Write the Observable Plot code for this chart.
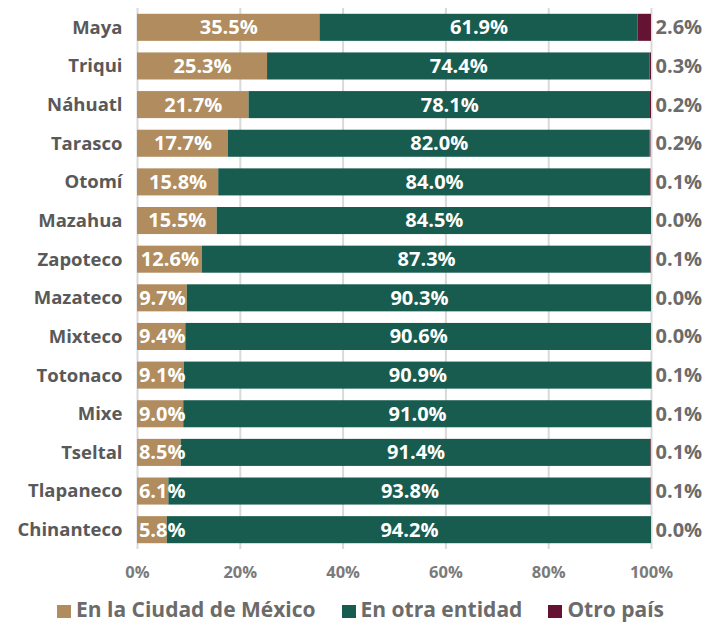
<!DOCTYPE html>
<html><head><meta charset="utf-8">
<script src="https://cdn.jsdelivr.net/npm/d3@7"></script>
<script src="https://cdn.jsdelivr.net/npm/@observablehq/plot@0.6"></script>
<style>
body{margin:0;background:#fff;font-family:"Open Sans",sans-serif;position:relative;width:721px;height:622px;overflow:hidden}
#chart svg{display:block}
#legend{position:absolute;left:0;width:721px;top:599px;line-height:21px;display:flex;justify-content:center;font-weight:bold;font-size:21px;color:#6b6b6b;white-space:nowrap}
#legend div{margin:0 13px}
#legend span.sw{display:inline-block;width:14px;height:13px;margin-right:5px;vertical-align:-1px}
</style></head><body>
<div id="chart"></div>
<div id="legend"></div>
<script>
const categories = ["Maya","Triqui","Náhuatl","Tarasco","Otomí","Mazahua","Zapoteco","Mazateco","Mixteco","Totonaco","Mixe","Tseltal","Tlapaneco","Chinanteco"];
const series = ["En la Ciudad de México","En otra entidad","Otro país"];
const cdmx   = [35.5,25.3,21.7,17.7,15.8,15.5,12.6,9.7,9.4,9.1,9.0,8.5,6.1,5.8];
const otra   = [61.9,74.4,78.1,82.0,84.0,84.5,87.3,90.3,90.6,90.9,91.0,91.4,93.8,94.2];
const pais   = [2.6,0.3,0.2,0.2,0.1,0.0,0.1,0.0,0.0,0.1,0.1,0.1,0.1,0.0];
const colors = ["#B08C5E","#175C4F","#651332"];
const xticks = [0,20,40,60,80,100];

const data = [];
categories.forEach((c,i)=>{
  data.push({name:c, series:series[0], value:cdmx[i]});
  data.push({name:c, series:series[1], value:otra[i]});
  data.push({name:c, series:series[2], value:pais[i]});
});
const fmt = v => v.toFixed(1) + "%";
// label positions derived from the data: middle of each segment (small first segments nudged right so the label stays inside the plot)
const labels = [];
categories.forEach((c,i)=>{
  labels.push({name:c, pos: Math.max(cdmx[i]/2, 4.8), text: fmt(cdmx[i])});
  labels.push({name:c, pos: cdmx[i] + otra[i]/2, text: fmt(otra[i])});
});
const outside = categories.map((c,i)=>({name:c, text: fmt(pais[i])}));

const plot = Plot.plot({
  width: 721, height: 592,
  marginLeft: 137, marginRight: 70, marginTop: 8, marginBottom: 43,
  style: {fontFamily: "'Open Sans', sans-serif", fontWeight: "bold"},
  x: {domain:[0,100]},
  y: {domain: categories, paddingInner: 0.3, paddingOuter: 0.15, round: false},
  color: {domain: series, range: colors},
  marks: [
    Plot.ruleX(xticks, {stroke:"#d9d9d9", strokeWidth:2}),
    Plot.barX(data, Plot.stackX({x:"value", y:"name", fill:"series", order: series})),
    Plot.text(labels, {x:"pos", y:"name", text:"text", fill:"white", fontSize:20}),
    Plot.text(outside, {x: () => 100, y:"name", text:"text", textAnchor:"start", dx:4, fill:"#6b6b6b", fontSize:20}),
    Plot.axisX({ticks: xticks, tickFormat: d => d + "%", tickSize:0, tickPadding:17, fontSize:16.5, fill:"#7a7a7a", label:null}),
    Plot.axisY({tickSize:0, tickPadding:15, fontSize:18.5, fill:"#595959", label:null})
  ]
});
document.getElementById("chart").appendChild(plot);
const lg = document.getElementById("legend");
series.forEach((s,i)=>{
  const d = document.createElement("div");
  d.innerHTML = `<span class="sw" style="background:${colors[i]}"></span>${s}`;
  lg.appendChild(d);
});
</script></body></html>
